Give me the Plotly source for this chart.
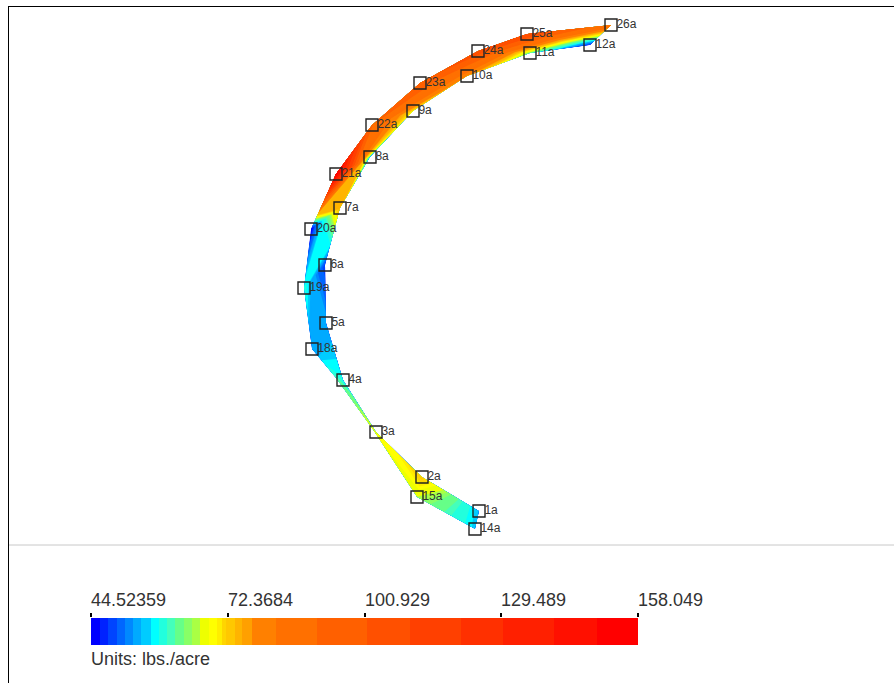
import numpy as np
import plotly.graph_objects as go

# Station positions (map units = image pixels)
inner_names = ["1a","2a","3a","4a","5a","6a","7a","8a","9a","10a","11a","12a"]
inner_x = [479,422,376,343,326,325,340,370,413,467,530,590,609]
inner_y = [511,477,432,380,323,265,208,157,111,76,53,45,27]
inner_values = [55,73,67,58,54,48,75,57,70,78,63,47,85]

outer_names = ["14a","15a","18a","19a","20a","21a","22a","23a","24a","25a","26a"]
outer_x = [475,417,374,336,312,304,311,336,372,420,478,527,611]
outer_y = [529,497,431,378,349,288,229,174,125,83,51,34,25]
outer_values = [56,66,69,62,53,59,45,155,92,98,108,110,85]
hidden_outer = (2,3)

# Legend
level_edges = [44.52,46.39,48.07,49.75,51.43,53.12,54.80,56.66,58.35,60.03,61.71,63.39,65.07,
               66.75,68.52,70.21,71.98,73.80,75.43,77.34,82.4,91.09,101.4,110.33,121.17,129.87,
               140.5,149.41,158.05]
level_edges.insert(16, 71.1)
level_colors = ["#0000ff","#0022ff","#0044ff","#0066ff","#0088ff","#00aaff","#00ccff","#00ffff",
                "#22ffdd","#44ffbb","#66ff88","#88ff66","#aaff44","#eeff00","#ffff00","#ffee00",
                "#ffd500","#ffc800","#ffb400","#ffa000","#ff8000","#ff7000","#ff6000","#ff5000",
                "#ff4000","#ff3000","#ff2000","#ff1000","#ff0000"]
tick_values = [44.52359,72.3684,100.929,129.489,158.049]
tick_labels = ["44.52359","72.3684","100.929","129.489","158.049"]
units_label = "Units: lbs./acre"

W, H = 894, 683
n = len(level_colors)
edges = np.array(level_edges[:n+1])
vmin, vmax = edges[0], edges[-1]
scale = []
for i, c in enumerate(level_colors):
    scale += [[(edges[i]-vmin)/(vmax-vmin), c], [(edges[i+1]-vmin)/(vmax-vmin), c]]

fig = go.Figure()
fig.add_trace(go.Carpet(
    a=list(range(13)), b=[0,1], carpet="c",
    x=[inner_x, outer_x], y=[inner_y, outer_y],
    aaxis=dict(showgrid=False, showline=False, showticklabels="none", minorgridcount=0, smoothing=0),
    baxis=dict(showgrid=False, showline=False, showticklabels="none", minorgridcount=0, smoothing=0),
    xaxis="x", yaxis="y"))
fig.add_trace(go.Contourcarpet(
    a=list(range(13)), b=[0,1], carpet="c",
    z=[inner_values, outer_values],
    zmin=vmin, zmax=vmax, autocontour=False, colorscale=scale, showscale=False,
    contours=dict(start=vmin, end=vmax, size=1.2, coloring="fill", showlines=False),
    line=dict(width=0, smoothing=0), xaxis="x", yaxis="y"))

vis_x = inner_x[:12] + [outer_x[i] for i in range(13) if i not in hidden_outer]
vis_y = inner_y[:12] + [outer_y[i] for i in range(13) if i not in hidden_outer]
names = inner_names + outer_names
fig.add_trace(go.Scatter(x=vis_x, y=vis_y, mode="markers", cliponaxis=False,
    marker=dict(symbol="square-open", size=12, color="#222", line=dict(width=1.4, color="#222")),
    hoverinfo="skip", xaxis="x", yaxis="y"))
fig.add_trace(go.Scatter(x=vis_x, y=vis_y, mode="markers+text", text=names, textposition="middle right",
    marker=dict(size=7, opacity=0),
    textfont=dict(family="Liberation Sans", size=12, color="#333"), hoverinfo="skip", xaxis="x", yaxis="y"))

pos = np.interp(edges, tick_values, np.arange(5))
fig.add_trace(go.Heatmap(x=pos.tolist(), y=[0,1], z=[np.arange(n).tolist()], zmin=0, zmax=n-1,
    colorscale=[[i/(n-1), c] for i, c in enumerate(level_colors)], showscale=False,
    xaxis="x2", yaxis="y2", hoverinfo="skip"))

ann = [dict(text=t, xref="x2", yref="y2", x=i, y=1, yshift=6, xanchor="left", yanchor="bottom", xshift=-2,
            showarrow=False, font=dict(family="Liberation Sans", size=18, color="#333"))
       for i, t in enumerate(tick_labels)]
ann.append(dict(text=units_label, xref="x2", yref="y2", x=0, y=0, yshift=-2, xshift=-2, xanchor="left", yanchor="top",
                showarrow=False, font=dict(family="Liberation Sans", size=18, color="#333")))

fig.update_layout(
    template="none",
    width=W, height=H, autosize=False, margin=dict(l=0, r=0, t=0, b=0, pad=0),
    paper_bgcolor="white", plot_bgcolor="rgba(0,0,0,0)", showlegend=False,
    font=dict(family="Liberation Sans", color="#333"),
    xaxis=dict(domain=[9/W, 1], range=[9, W], side="top", showline=True, linecolor="black", linewidth=1,
               showgrid=False, zeroline=False, showticklabels=False, ticks="", anchor="y", automargin=False),
    yaxis=dict(domain=[0, 676/H], range=[H, 7], showline=True, linecolor="black", linewidth=1,
               showgrid=False, zeroline=False, showticklabels=False, ticks="", anchor="x", automargin=False),
    xaxis2=dict(domain=[91/W, 638/W], range=[0, 4], side="top", anchor="y2", automargin=False,
                tickmode="array", tickvals=list(range(5)), showticklabels=False,
                ticks="outside", ticklen=4, tickwidth=1.5, tickcolor="black",
                showgrid=False, zeroline=False, showline=False),
    yaxis2=dict(domain=[(H-645)/H, (H-618)/H], range=[0, 1], anchor="x2", visible=False, automargin=False),
    shapes=[dict(type="line", xref="x", yref="y", x0=9, x1=W, y0=545, y1=545,
                 line=dict(color="#c8c8c8", width=1))],
    annotations=ann,
)
fig.write_html("out.html", config={"displayModeBar": False},
               post_script="document.body.style.margin='0';document.body.style.overflow='hidden';document.documentElement.style.overflow='hidden';")
